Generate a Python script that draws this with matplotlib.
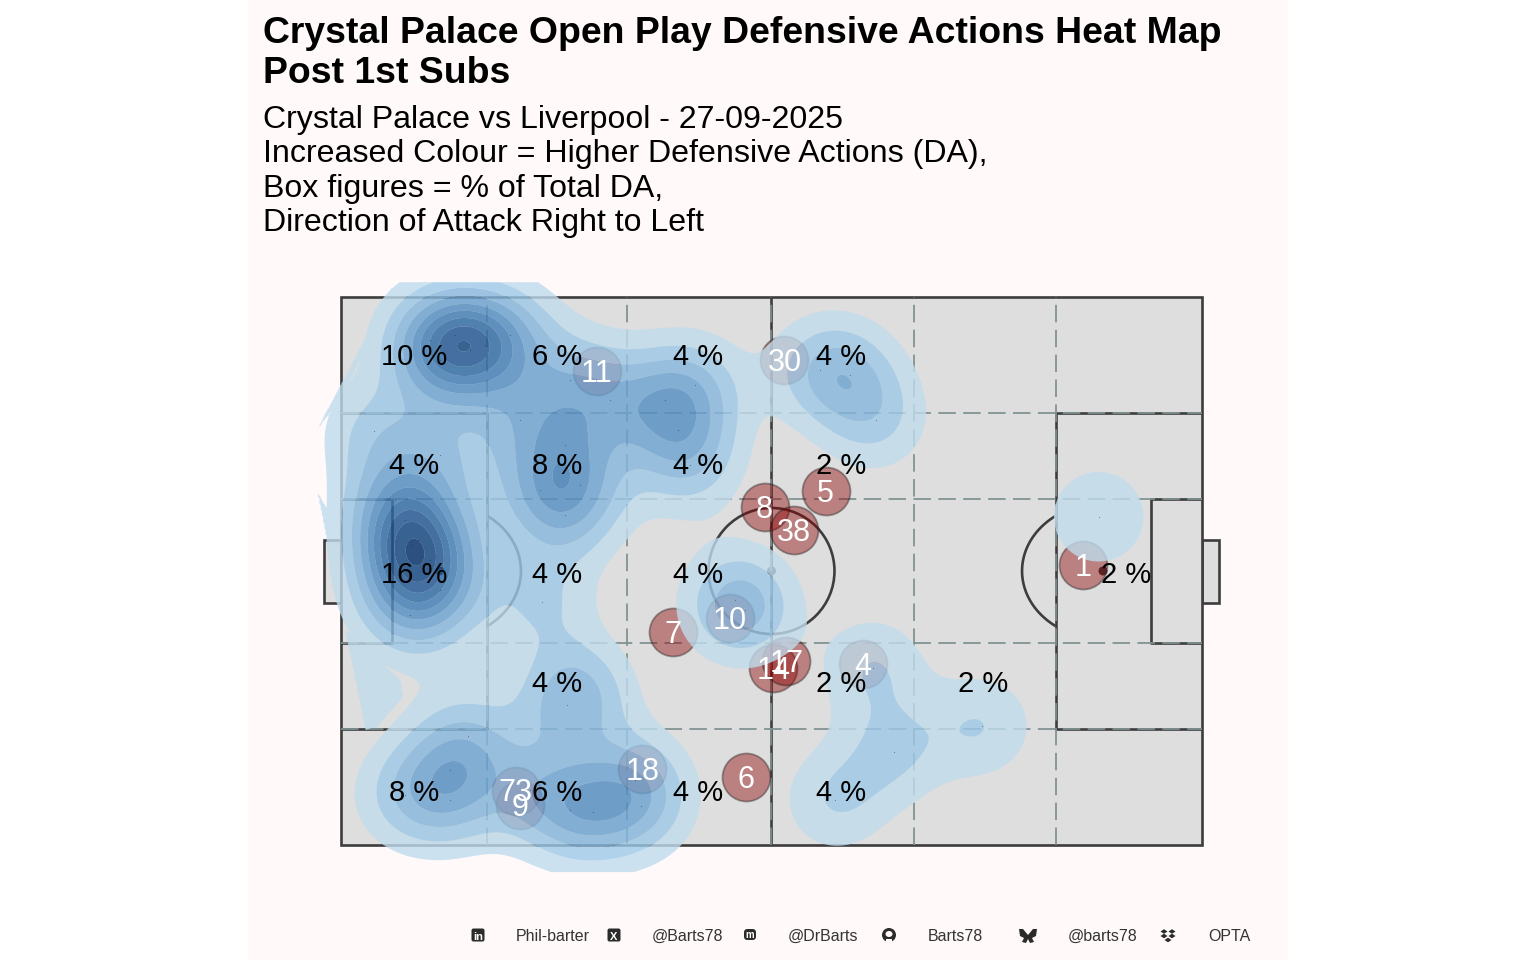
import numpy as np
import matplotlib
matplotlib.use("Agg")
import matplotlib.pyplot as plt
from matplotlib.patches import Rectangle, Ellipse, Circle, Polygon, FancyBboxPatch
from matplotlib.transforms import Affine2D
from matplotlib.path import Path

plt.rcParams['font.family'] = ['Liberation Sans', 'DejaVu Sans']

TITLE = ["Crystal Palace Open Play Defensive Actions Heat Map", "Post 1st Subs"]
SUBTITLE = ["Crystal Palace vs Liverpool - 27-09-2025",
            "Increased Colour = Higher Defensive Actions (DA),",
            "Box figures = % of Total DA,",
            "Direction of Attack Right to Left"]

action_x = [10.3,13.2,15.0,16.7,11.5, 19.6,26.6,31.2, 37.6,41.1, 55.6,59.1,
            3.8,11.5, 20.8,26.0,23.1,27.8, 39.1,40.5, 62.1,
            6.3,7.4,8.9,8.2,10.3,6.9,11.5,8.0, 26.0,23.3, 45.8,46.9, 88.0,
            26.2,27.8, 61.8, 74.4,
            14.8,7.4,12.7,12.7, 29.3,22.0,26.6, 34.8,34.1, 64.2,57.4]
action_y = [92.2,93.1,90.3,91.2,88.5, 93.1,84.9,81.2, 81.2,83.9, 86.7,85.8,
            75.5,71.2, 77.6,73.0,64.8,65.7, 75.7,69.3, 77.6,
            63.0,59.3,55.7,54.7,52.0,48.4,46.5,42.0, 60.2,44.3, 44.7,42.9, 59.9,
            25.5,28.3, 32.3, 21.7,
            19.9,9.1,8.2,13.7, 6.0,10.0,6.4, 7.1,11.9, 17.0,8.2]

# thin low-density slivers the reference contour leaves at the pitch's left edge
sliver_a = [(6.3,102.7),(-2.8,75.7),(0.5,83.0),(5.1,98.5)]
sliver_b = [(0.5,39.2),(6.9,30.1),(7.2,27.0),(4.2,21.5),(2.8,21.0)]
sliver_c = [(-2.8,64.8),(-0.1,44.7),(0.5,52.0),(-1.0,59.3)]

player_no = ["1","4","5","6","7","8","9","10","11","14","17","18","30","38","73"]
player_x = [86.2,60.6,56.3,47.0,38.6,49.2,20.8,45.2,29.7,50.2,51.7,35.0,51.5,52.6,20.3]
player_y = [51.1,33.0,64.6,12.4,38.9,61.7,7.3,41.4,86.5,32.3,33.6,13.9,88.5,57.5,9.9]

zone_x = [8.5,25.1,41.5,58.1,74.6,91.2]
zone_y = [89.1,69.2,49.3,29.4,9.5]
zone_pct = [[10,6,4,4,0,0],
            [4,8,4,2,0,0],
            [16,4,4,0,0,2],
            [0,4,0,2,2,0],
            [8,6,4,4,0,0]]

grid_x = [17,33.2,50,66.5,83]
grid_y = [21.1,36.8,63.2,78.9]

footer_labels = ["Phil-barter","@Barts78","@DrBarts","Barts78","@barts78","OPTA"]
footer_x = [516,652,788,928,1068,1208]

density_colors = ["#c0dced","#9dc9e8","#86b6dd","#6ba2d2","#528ec3",
                  "#407cb5","#2d69a2","#1d5491","#0e437f","#002c69"]

PANEL = "#fff9f9"
PITCH = "#dedede"
LINE = "#3d3d3d"
DASH = "#7f9191"

fig = plt.figure(figsize=(15.36,9.6), dpi=100, facecolor="white")
PX = 8.61; PY = 5.48
ax = fig.add_axes([248/1536,0,1040/1536,1])
ax.set_xlim((248-341)/PX,(1288-341)/PX)
ax.set_ylim((845-960)/PY,845/PY)
ax.axis("off")
ax.add_patch(Rectangle((ax.get_xlim()[0],ax.get_ylim()[0]),1040/PX,960/PY,fc=PANEL,ec="none",zorder=0))

# pitch
ax.add_patch(Rectangle((-2,44.2),2,11.5,fc=PITCH,ec=LINE,lw=1.9,zorder=1))
ax.add_patch(Rectangle((100,44.2),2,11.5,fc=PITCH,ec=LINE,lw=1.9,zorder=1))
ax.add_patch(Rectangle((0,0),100,100,fc=PITCH,ec=LINE,lw=1.9,zorder=1.5))
def seg(xs,ys,**k):
    ax.plot(xs,ys,color=LINE,lw=1.9,zorder=2,solid_capstyle="butt",**k)
seg([50,50],[0,100])
for x0,x1 in ((0,17),(100,83)):
    seg([x0,x1,x1,x0],[21.1,21.1,78.9,78.9])
for x0,x1 in ((0,5.9),(100,94.1)):
    seg([x0,x1,x1,x0],[36.8,36.8,63.2,63.2])
t = np.linspace(0,2*np.pi,400)
ax.add_patch(Ellipse((50,50),14.63,23.0,fc="none",ec=LINE,lw=1.9,zorder=2))
ax1 = 11.5+9.4*np.cos(t); ay = 50+12.4*np.sin(t)
o = np.argsort(ay[ax1>17]); seg(ax1[ax1>17][o],ay[ax1>17][o])
ax2 = 88.5-9.4*np.cos(t)
o = np.argsort(ay[ax2<83]); seg(ax2[ax2<83][o],ay[ax2<83][o])
for sx in (11.5,50,88.5):
    ax.add_patch(Ellipse((sx,50),9/PX,9/PY,fc=LINE,ec="none",zorder=2))

# dashed thirds
for gx in grid_x:
    ax.plot([gx,gx],[0,100],color=DASH,lw=1.4,alpha=0.9,ls=(0,(9,3.8)),zorder=3)
for gy in grid_y:
    ax.plot([0,100],[gy,gy],color=DASH,lw=1.4,alpha=0.9,ls=(0,(9,3.8)),zorder=3)

# players
ax.scatter(player_x,player_y,s=(48*0.72)**2,color="#8b0000",alpha=0.42,edgecolor="#222222",linewidth=1.3,zorder=4)

# density
SIGMA = 38.0
gx = np.linspace(-2.9,103,700); gy = np.linspace(-4.95,102.7,700)
X,Y = np.meshgrid(gx,gy)
Z = np.zeros_like(X)
for a,b in zip(action_x,action_y):
    Z += np.exp(-(((X-a)*PX)**2+((Y-b)*PY)**2)/(2*SIGMA**2))
levels = [0.5,1.05,1.6,2.15,2.7,3.2,3.7,4.2,4.7,5.2,20]
pts = np.column_stack([X.ravel(),Y.ravel()])
for sl in (sliver_a,sliver_b,sliver_c):
    inside = Path(sl+[sl[0]]).contains_points(pts).reshape(X.shape)
    Z[inside] = np.maximum(Z[inside],0.6)
ax.contourf(X,Y,Z,levels=levels,colors=density_colors,alpha=0.8,zorder=5,antialiased=True)
ax.scatter(action_x,action_y,s=0.6,color="#222222",alpha=0.5,linewidth=0,zorder=6)

# labels
for n,x,y in zip(player_no,player_x,player_y):
    ax.text(x,y-0.5,n,color="white",fontsize=22,ha="center",va="center",zorder=7)
for r,row in enumerate(zone_pct):
    for c,v in enumerate(row):
        if v:
            ax.text(zone_x[c],zone_y[r],f"{v} %",color="black",fontsize=21,ha="center",va="center",zorder=8)

def ftext(x,y,s,**k):
    fig.text(x/1536,1-y/960,s,va="baseline",**k)
ftext(263,43,TITLE[0],fontsize=26.9,fontweight="bold")
ftext(263,83,TITLE[1],fontsize=26.9,fontweight="bold")
for yy,s in zip((128,162,197,231),SUBTITLE):
    ftext(263,yy,s,fontsize=23.1)
for x,s in zip(footer_x,footer_labels):
    ftext(x,941,s,fontsize=11.5,color="#333333")

# footer icons
T = Affine2D().scale(1,-1).translate(0,960)
IC = "#2b2b2b"
def add(p): p.set_transform(T); fig.add_artist(p)
for cx in (478,614):
    add(FancyBboxPatch((cx-5.5,929.5),11,11,boxstyle="round,pad=1,rounding_size=2",fc=IC,ec="none"))
fig.text(478/1536,1-939.5/960,"in",color="white",fontsize=8,fontweight="bold",ha="center",va="baseline")
fig.text(614/1536,1-939.5/960,"X",color="white",fontsize=8,fontweight="bold",ha="center",va="baseline")
add(FancyBboxPatch((745,930),10,9,boxstyle="round,pad=1,rounding_size=3.5",fc=IC,ec="none"))
fig.text(750/1536,1-938.5/960,"m",color="white",fontsize=7,fontweight="bold",ha="center",va="baseline")
add(Circle((889,935),7,fc=IC,ec="none"))
add(Ellipse((889,934),7,6,fc=PANEL,ec="none"))
add(Rectangle((886,939),6,4,fc=PANEL,ec="none"))
add(Polygon([(1019,929),(1023,929),(1028,935),(1033,929),(1037,929),(1036,936),(1032,938),(1034,942),(1030,943),(1028,939),(1026,943),(1022,942),(1024,938),(1020,936)],fc=IC,ec="none"))
for dx,dy in ((-4,-3.5),(4,-3.5),(-4,1),(4,1),(0,5)):
    cx,cy = 1168+dx,935+dy
    add(Polygon([(cx-3.5,cy),(cx,cy-2.3),(cx+3.5,cy),(cx,cy+2.3)],fc=IC,ec="none"))

fig.savefig("out.png",dpi=100,facecolor="white")
